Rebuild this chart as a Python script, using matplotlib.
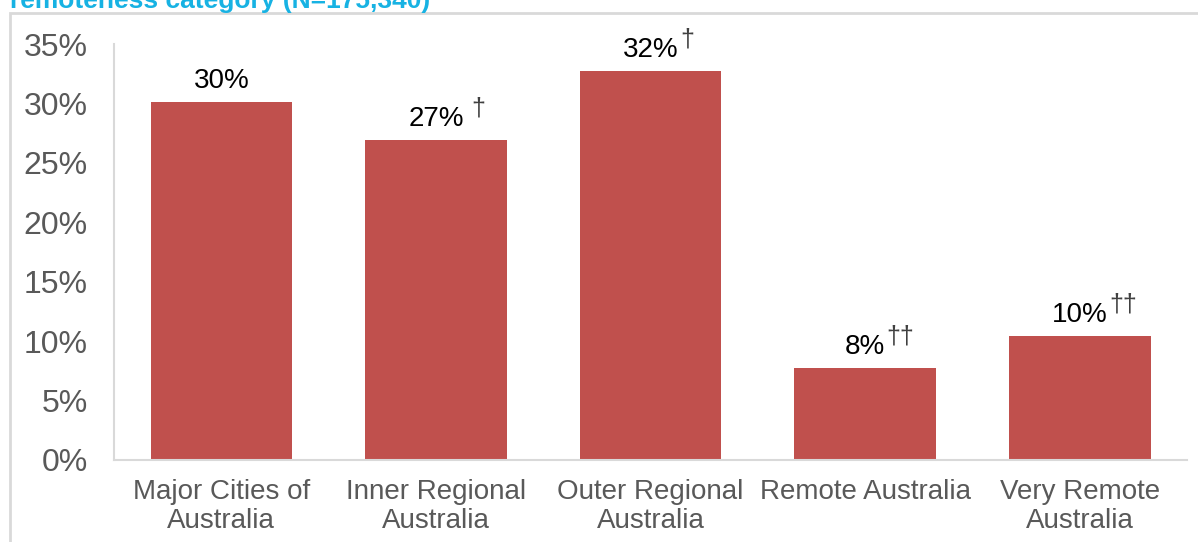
import matplotlib.pyplot as plt
from matplotlib.patches import Rectangle

plt.rcParams["font.family"] = ["Liberation Sans", "DejaVu Sans"]

categories = [
    "Major Cities of\nAustralia",
    "Inner Regional\nAustralia",
    "Outer Regional\nAustralia",
    "Remote Australia",
    "Very Remote\nAustralia",
]
values = [30.1, 26.9, 32.7, 7.7, 10.4]
value_labels = ["30%", "27%", "32%", "8%", "10%"]
daggers = ["", " \u2020", "\u2020", "\u2020\u2020", "\u2020\u2020"]
y_ticks = [0, 5, 10, 15, 20, 25, 30, 35]

bar_color = "#C0504D"
axis_grey = "#D9D9D9"
text_grey = "#595959"

fig = plt.figure(figsize=(11.98, 5.42), dpi=100)
ax = fig.add_axes([0.0952, 0.1513, 0.8958, 0.7675])

x = range(len(categories))
ax.bar(x, values, width=0.66, color=bar_color)

for i, (v, lab, dag) in enumerate(zip(values, value_labels, daggers)):
    t = ax.annotate(lab, xy=(i, v), xytext=(0, 6), textcoords="offset points",
                    ha="center", va="bottom", fontsize=20, color="black")
    if dag:
        ax.annotate(dag, xy=(1, 0.45), xycoords=t, xytext=(1, 0),
                    textcoords="offset points", ha="left", va="bottom",
                    fontsize=18, color="#404040")

ax.set_xlim(-0.5, len(categories) - 0.5)
ax.set_ylim(0, 35)
ax.set_yticks(y_ticks)
ax.set_yticklabels([f"{t}%" for t in y_ticks])
ax.set_xticks(list(x))
ax.set_xticklabels(categories, linespacing=1.12)

ax.tick_params(axis="y", length=0, pad=19, labelsize=23, labelcolor=text_grey)
ax.tick_params(axis="x", length=0, pad=14, labelsize=20, labelcolor=text_grey)

for side in ["top", "right"]:
    ax.spines[side].set_visible(False)
for side in ["left", "bottom"]:
    ax.spines[side].set_color(axis_grey)
    ax.spines[side].set_linewidth(1.5)

# chart area border, running off the right and bottom edges
fig.patches.append(Rectangle((10 / 1198, -0.05), 1.2, 1 - 13 / 542 + 0.05,
                             transform=fig.transFigure, fill=False,
                             edgecolor=axis_grey, linewidth=2))

fig.text(10 / 1198, 1 - 8 / 542, "remoteness category (N=175,340)",
         ha="left", va="baseline", fontsize=19, fontweight="bold",
         color="#17B2E3")

fig.savefig("out.png", dpi=100)
